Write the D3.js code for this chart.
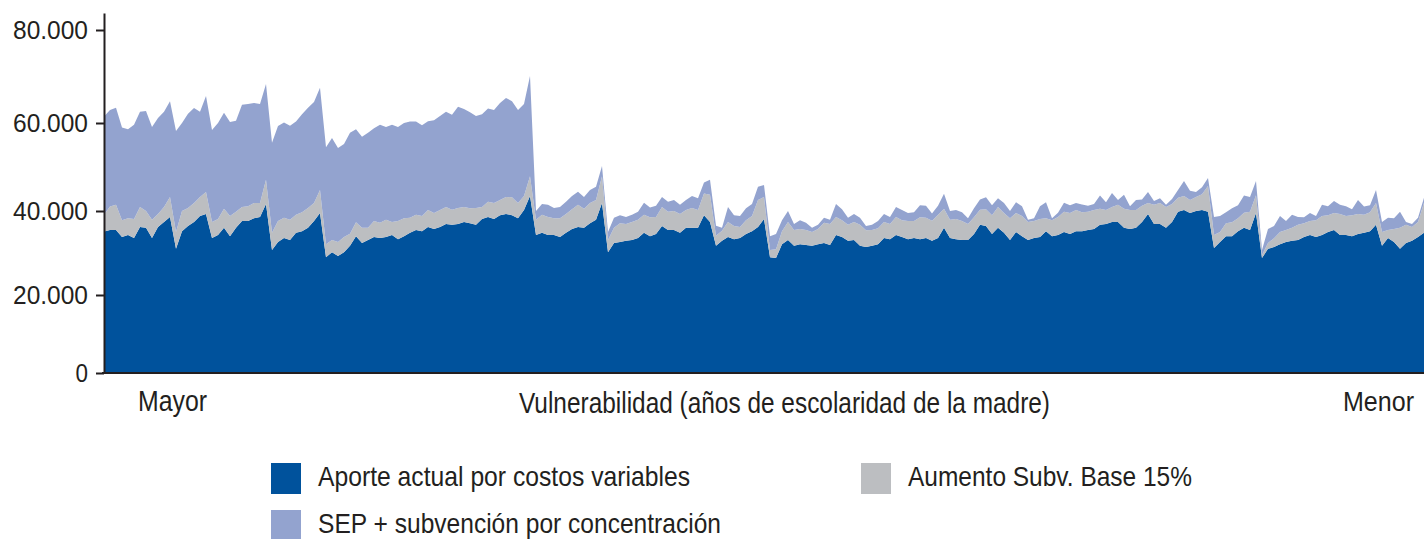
<!DOCTYPE html>
<html>
<head>
<meta charset="utf-8">
<script src="https://cdn.jsdelivr.net/npm/d3@7"></script>
<style>
  body { margin: 0; background: #fff; }
  text { fill: #231f20; }
</style>
</head>
<body>
<div id="chart"></div>
<script>
// valores en miles de pesos, de mayor a menor escolaridad de la madre
const aporte = [
  35.1, 35.5, 35.5, 33.8, 34.3, 33.6, 36.2, 36.0, 33.6, 36.2,
  37.4, 38.6, 31.0, 35.2, 36.4, 37.4, 38.8, 39.3, 33.6, 34.3,
  36.0, 34.0, 36.0, 37.6, 37.6, 38.3, 38.6, 41.6, 30.7, 32.6,
  33.6, 33.1, 34.8, 35.2, 36.0, 37.6, 39.5, 29.0, 30.2, 29.3,
  30.2, 31.7, 34.0, 32.4, 33.1, 33.8, 33.6, 33.8, 34.3, 33.3,
  34.0, 34.8, 35.5, 35.2, 36.2, 35.7, 36.2, 36.9, 36.7, 36.9,
  37.4, 37.1, 36.7, 38.1, 38.6, 38.1, 39.0, 39.3, 39.0, 38.3,
  40.2, 43.4, 34.3, 34.8, 34.3, 34.3, 33.8, 34.8, 35.7, 36.2,
  36.0, 37.1, 37.9, 41.8, 30.2, 32.4, 32.6, 32.9, 33.1, 33.6,
  34.8, 34.0, 34.5, 36.4, 35.5, 35.5, 34.8, 36.0, 36.0, 36.0,
  39.0, 37.4, 31.7, 32.9, 33.8, 33.3, 33.6, 34.5, 35.2, 36.2,
  38.1, 29.0, 28.8, 32.1, 33.1, 31.7, 32.1, 31.9, 31.7, 32.1,
  32.4, 31.9, 34.3, 33.8, 32.9, 33.1, 31.7, 31.4, 31.7, 32.1,
  33.6, 33.3, 34.3, 33.8, 33.3, 33.6, 33.3, 33.6, 32.9, 33.6,
  36.0, 33.6, 33.3, 33.1, 33.1, 34.5, 36.7, 36.4, 34.5, 36.0,
  34.8, 33.1, 35.0, 34.0, 33.1, 33.6, 33.8, 35.2, 34.0, 34.3,
  35.0, 34.5, 35.2, 35.2, 35.5, 35.7, 36.7, 36.9, 37.4, 37.4,
  36.0, 35.7, 36.0, 37.4, 39.3, 36.9, 36.9, 36.0, 37.4, 39.8,
  40.2, 39.5, 40.0, 40.2, 39.8, 31.2, 32.6, 34.0, 34.0, 35.2,
  36.0, 35.5, 39.5, 28.8, 31.0, 31.4, 32.1, 32.6, 32.9, 33.1,
  33.8, 34.3, 33.8, 34.3, 35.0, 35.5, 34.3, 34.3, 34.0, 34.5,
  34.8, 35.2, 36.7, 31.7, 33.6, 32.6, 31.0, 32.4, 32.9, 33.8,
  34.8
];
const aumento = [
  4.0, 5.5, 5.9, 4.0, 4.0, 4.5, 4.7, 4.0, 4.3, 3.1,
  3.5, 4.6, 4.0, 4.8, 4.3, 4.4, 4.4, 5.0, 3.8, 3.8,
  4.5, 4.8, 3.8, 3.3, 3.5, 3.5, 3.2, 5.5, 4.1, 5.0,
  4.8, 4.8, 4.3, 4.5, 4.7, 4.2, 5.3, 3.1, 2.9, 3.3,
  3.6, 2.9, 3.3, 3.6, 2.9, 3.8, 3.6, 4.1, 3.1, 4.3,
  4.3, 3.6, 3.6, 3.6, 4.0, 3.8, 4.0, 4.0, 3.6, 3.8,
  3.5, 3.5, 4.0, 2.8, 3.5, 3.7, 3.5, 3.9, 4.1, 3.5,
  3.2, 4.5, 3.6, 4.3, 4.3, 4.0, 4.5, 4.5, 4.7, 5.2,
  4.5, 4.7, 4.6, 6.1, 2.9, 3.6, 4.5, 4.0, 4.3, 4.3,
  4.3, 4.5, 4.1, 4.5, 4.3, 4.5, 4.5, 4.2, 4.7, 4.2,
  5.0, 6.3, 2.4, 2.4, 3.6, 3.1, 2.6, 3.3, 3.6, 6.3,
  5.1, 1.7, 2.1, 3.1, 4.3, 3.8, 3.6, 3.6, 3.3, 3.6,
  4.8, 5.0, 4.3, 4.0, 3.8, 4.3, 5.0, 4.0, 3.8, 3.8,
  3.8, 3.6, 4.3, 4.0, 4.3, 4.0, 5.2, 4.8, 4.8, 5.5,
  4.5, 4.3, 4.8, 4.5, 3.8, 4.0, 3.6, 4.0, 4.5, 4.9,
  4.7, 5.2, 4.5, 4.8, 4.3, 4.0, 4.3, 3.1, 3.8, 4.3,
  4.8, 5.0, 5.0, 4.5, 4.3, 4.5, 3.8, 3.3, 3.5, 4.0,
  4.5, 4.5, 4.2, 3.8, 2.5, 4.5, 4.9, 4.9, 4.2, 3.2,
  3.2, 3.0, 3.2, 3.6, 5.9, 3.1, 2.4, 3.1, 3.3, 3.1,
  3.6, 4.3, 4.1, 0.7, 1.4, 2.1, 2.9, 2.9, 3.1, 3.6,
  3.3, 3.3, 4.0, 4.5, 4.0, 4.0, 5.0, 4.5, 5.0, 4.8,
  4.3, 4.5, 5.1, 3.3, 1.9, 3.1, 5.0, 4.3, 3.3, 3.6,
  7.1
];
const sep = [
  22.3, 21.8, 21.9, 21.2, 20.3, 21.5, 21.5, 22.6, 21.2, 21.8,
  21.5, 21.5, 23.2, 20.0, 21.3, 21.4, 19.2, 21.5, 21.0, 21.9,
  21.7, 21.4, 20.7, 23.0, 23.0, 22.5, 22.3, 21.3, 20.7, 21.7,
  21.7, 21.5, 21.2, 22.2, 22.6, 22.7, 22.8, 22.4, 23.5, 21.7,
  21.4, 23.2, 21.3, 20.9, 21.8, 21.2, 22.4, 21.2, 22.2, 21.5,
  21.7, 21.9, 21.2, 20.7, 20.2, 21.1, 21.3, 21.5, 21.5, 22.8,
  22.1, 21.7, 20.8, 21.0, 21.0, 21.0, 21.8, 22.2, 21.6, 21.0,
  20.7, 22.2, 2.1, 2.5, 2.8, 2.4, 2.6, 2.8, 3.0, 3.0,
  2.7, 3.0, 3.0, 2.3, 1.9, 2.4, 1.9, 1.7, 1.7, 1.9,
  2.8, 2.3, 2.6, 2.3, 2.3, 2.5, 2.1, 2.3, 2.7, 2.7,
  2.5, 3.4, 2.4, 0.7, 3.5, 2.6, 2.6, 2.8, 2.8, 3.0,
  2.7, 3.3, 3.6, 2.6, 2.6, 1.4, 2.1, 1.7, 1.0, 1.0,
  1.2, 1.0, 3.0, 2.6, 1.7, 1.9, 1.7, 1.0, 1.2, 1.7,
  1.9, 1.7, 2.3, 2.4, 1.9, 2.1, 2.8, 2.8, 1.7, 2.1,
  3.4, 2.1, 2.1, 2.1, 1.4, 2.1, 2.3, 2.7, 2.3, 2.0,
  2.3, 1.7, 2.5, 2.3, 0.5, 0.7, 3.0, 3.7, 0.5, 1.0,
  2.1, 1.8, 1.6, 1.8, 1.4, 1.4, 3.0, 1.8, 3.2, 1.1,
  3.2, 0.9, 2.3, 1.4, 2.5, 0.9, 1.1, 0.5, 1.1, 1.8,
  3.4, 2.1, 1.1, 1.6, 1.8, 4.3, 3.8, 2.6, 3.3, 3.0,
  3.9, 3.4, 3.2, 1.2, 3.3, 2.9, 3.8, 2.1, 3.1, 1.9,
  1.4, 1.9, 1.0, 2.6, 2.1, 2.8, 2.1, 2.3, 1.4, 3.2,
  1.9, 1.6, 3.0, 2.4, 2.9, 2.6, 3.8, 0.7, 0.7, 1.0,
  1.1
];
const seriesKeys = ["aporte", "aumento", "sep"];
const seriesNames = ["Aporte actual por costos variables", "Aumento Subv. Base 15%", "SEP + subvención por concentración"];
const yTicks = [0, 20000, 40000, 60000, 80000];
const xEndLabels = ["Mayor", "Menor"];
const xTitle = "Vulnerabilidad (años de escolaridad de la madre)";

const colors = {aporte: "#00529c", aumento: "#bcbec1", sep: "#93a3cf"};

const margin = {top: 13, right: 0, bottom: 166, left: 104};
const width = 1424 - margin.left - margin.right;
const height = 539 - margin.top - margin.bottom;

const svg = d3.select("#chart")
    .append("svg")
    .attr("width", width + margin.left + margin.right)
    .attr("height", height + margin.top + margin.bottom)
    .append("g")
    .attr("transform", `translate(${margin.left},${margin.top})`);

const rows = aporte.map((v, i) => ({
    aporte: v * 1000,
    aumento: aumento[i] * 1000,
    sep: sep[i] * 1000
}));

const x = d3.scaleLinear()
    .domain([0, rows.length - 1])
    .range([0, width]);

// the printed axis is not evenly spaced, so the scale follows its ticks
const y = d3.scaleLinear()
    .domain([0, 20000, 40000, 60000, 80000, 84000])
    .range([height, 282, 198, 110, 17, 0]);

const stacked = d3.stack().keys(seriesKeys)(rows);

const area = d3.area()
    .x((d, i) => x(i))
    .y0(d => y(d[0]))
    .y1(d => y(d[1]));

svg.selectAll(".layer")
    .data(stacked)
    .join("path")
    .attr("class", "layer")
    .attr("fill", d => colors[d.key])
    .attr("d", area);

const locale = d3.formatLocale({decimal: ",", thousands: ".", grouping: [3], currency: ["$", ""]});
const fmt = locale.format(",");

const yAxis = svg.append("g")
    .attr("class", "y-axis")
    .call(d3.axisLeft(y)
        .tickValues(yTicks)
        .tickSize(8)
        .tickSizeOuter(0)
        .tickPadding(8)
        .tickFormat(fmt));

yAxis.select(".domain").attr("stroke", "#231f20").attr("stroke-width", 2);
yAxis.selectAll(".tick line").attr("stroke", "#231f20").attr("stroke-width", 2);
yAxis.selectAll(".tick text")
    .style("font-family", "'Liberation Sans', Arial, sans-serif")
    .style("font-size", "25px")
    .attr("fill", "#231f20")
    .attr("textLength", function() { return this.textContent.length * 12.5; })
    .attr("lengthAdjust", "spacingAndGlyphs");

svg.append("line")
    .attr("x1", -2)
    .attr("x2", width)
    .attr("y1", height)
    .attr("y2", height)
    .attr("stroke", "#231f20")
    .attr("stroke-width", 2);

const labelFont = "'Liberation Sans Narrow', 'Arial Narrow', 'Liberation Sans', sans-serif";

svg.append("text")
    .attr("x", 34)
    .attr("y", height + 38)
    .style("font-family", labelFont)
    .style("font-size", "30px")
    .attr("textLength", 69)
    .attr("lengthAdjust", "spacingAndGlyphs")
    .text(xEndLabels[0]);

svg.append("text")
    .attr("x", width - 81)
    .attr("y", height + 38)
    .style("font-family", labelFont)
    .style("font-size", "27px")
    .attr("textLength", 71)
    .attr("lengthAdjust", "spacingAndGlyphs")
    .text(xEndLabels[1]);

svg.append("text")
    .attr("x", 415)
    .attr("y", height + 40)
    .style("font-family", labelFont)
    .style("font-size", "30px")
    .attr("textLength", 531)
    .attr("lengthAdjust", "spacingAndGlyphs")
    .text(xTitle);

const legendItems = [
    {key: "aporte", name: seriesNames[0], x: 167, y: 450, w: 372},
    {key: "aumento", name: seriesNames[1], x: 757, y: 450, w: 284},
    {key: "sep", name: seriesNames[2], x: 167, y: 497, w: 403}
];

const legend = svg.selectAll(".legend")
    .data(legendItems)
    .join("g")
    .attr("class", "legend")
    .attr("transform", d => `translate(${d.x},${d.y})`);

legend.append("rect")
    .attr("width", 30)
    .attr("height", 31)
    .attr("fill", d => colors[d.key]);

legend.append("text")
    .attr("x", 47)
    .attr("y", 23)
    .style("font-family", labelFont)
    .style("font-size", "28px")
    .attr("textLength", d => d.w)
    .attr("lengthAdjust", "spacingAndGlyphs")
    .text(d => d.name);
</script>
</body>
</html>
